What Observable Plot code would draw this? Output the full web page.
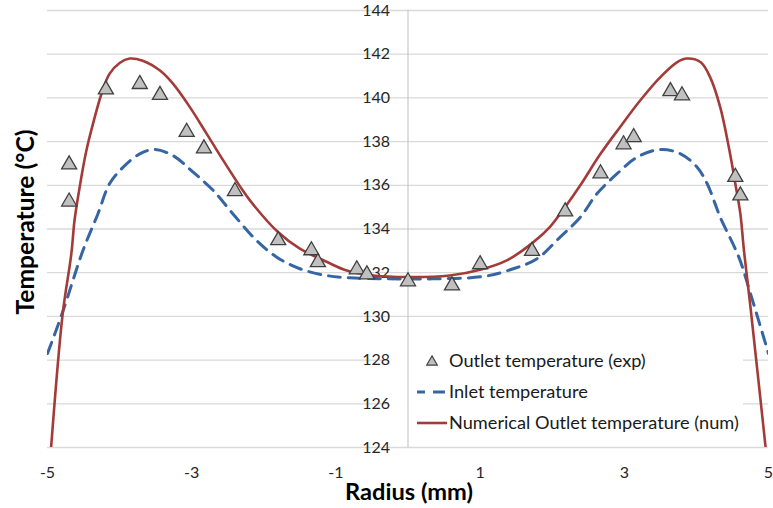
<!DOCTYPE html>
<html><head><meta charset="utf-8">
<script src="https://cdn.jsdelivr.net/npm/d3@7"></script>
<script src="https://cdn.jsdelivr.net/npm/@observablehq/plot@0.6"></script>
<style>
body{margin:0;background:#fff;}
#chart{position:relative;width:773px;height:508px;}
</style>
</head><body><div id="chart"></div>
<script>
// Numerical outlet temperature (solid red)
const numX = [-4.95, -4.79, -4.67, -4.625, -4.56, -4.46, -4.37, -4.25, -4.14, -4.0, -3.86, -3.68, -3.44, -3.26, -3.03, -2.80, -2.565, -2.33, -2.19, -1.80, -1.5, -1.13, -0.85, -0.48, 0, 0.58, 1.0, 1.37, 1.74, 1.97, 2.20, 2.39, 2.67, 2.94, 3.22, 3.5, 3.73, 3.87, 4.06, 4.19, 4.33, 4.45, 4.54, 4.61, 4.66, 4.75, 4.96];
const numY = [124.0, 130.1, 132.85, 134.4, 135.8, 137.6, 138.8, 140.2, 141.1, 141.6, 141.8, 141.7, 141.25, 140.65, 139.6, 138.4, 137.15, 135.95, 135.3, 133.85, 133.1, 132.5, 132.1, 131.87, 131.8, 131.87, 132.13, 132.56, 133.4, 134.1, 135.1, 136.0, 137.44, 138.66, 139.88, 140.95, 141.63, 141.8, 141.63, 140.95, 139.58, 137.74, 136.07, 134.69, 133.0, 130.42, 124.0];
// Inlet temperature (dashed blue)
const inletX = [-5, -4.79, -4.51, -4.30, -4.14, -3.95, -3.72, -3.51, -3.26, -2.98, -2.70, -2.43, -2.10, -1.82, -1.5, -1.13, -0.81, -0.30, 0.35, 1.05, 1.46, 1.79, 2.11, 2.39, 2.62, 2.90, 3.18, 3.5, 3.78, 4.01, 4.15, 4.26, 4.33, 4.59, 4.75, 5.0];
const inletY = [128.3, 130.2, 133.0, 134.7, 136.07, 136.83, 137.44, 137.64, 137.36, 136.6, 135.76, 134.7, 133.47, 132.71, 132.18, 131.87, 131.77, 131.72, 131.72, 131.83, 132.18, 132.64, 133.63, 134.54, 135.61, 136.53, 137.29, 137.64, 137.44, 136.83, 136.07, 135.15, 134.54, 132.7, 131.04, 128.3];
// Outlet temperature, experiment (triangles)
const expX = [-4.70, -4.70, -4.19, -3.72, -3.44, -3.07, -2.83, -2.40, -1.80, -1.34, -1.25, -0.71, -0.57, 0.0, 0.61, 1.0, 1.72, 2.18, 2.67, 2.99, 3.13, 3.64, 3.80, 4.54, 4.61];
const expY = [136.95, 135.25, 140.38, 140.63, 140.13, 138.44, 137.68, 135.73, 133.48, 133.02, 132.48, 132.15, 131.92, 131.6, 131.41, 132.38, 132.99, 134.8, 136.54, 137.87, 138.2, 140.3, 140.11, 136.38, 135.53];

const xTicks = [-5, -3, -1, 1, 3, 5];
const yTicks = [124, 126, 128, 130, 132, 134, 136, 138, 140, 142, 144];
const legendLabels = ["Outlet temperature (exp)", "Inlet temperature", "Numerical Outlet temperature (num)"];
const xTitle = "Radius (mm)";
const yTitle = "Temperature (°C)";

const num = numX.map((x, i) => ({x, y: numY[i]}));
const inlet = inletX.map((x, i) => ({x, y: inletY[i]}));
const exp = expX.map((x, i) => ({x, y: expY[i]}));

const RED = "#a33b39", BLUE = "#3566a3", TRI_FILL = "#c0c0c0", TRI_STROKE = "#3f3f3f";
const FONT = "Lato, 'Open Sans', sans-serif";

const plot = Plot.plot({
  width: 773, height: 508,
  marginLeft: 47, marginRight: 5, marginTop: 10, marginBottom: 61,
  style: {fontFamily: FONT, background: "#fff", overflow: "visible"},
  x: {domain: [-5, 5], axis: null},
  y: {domain: [124, 144], axis: null},
  marks: [
    Plot.ruleY(yTicks, {stroke: "#d9d9d9", strokeWidth: 1.3}),
    Plot.ruleX([0], {stroke: "#bfbfbf", strokeWidth: 1}),
    Plot.text(yTicks, {x: 0, y: d => d, text: d => String(d), textAnchor: "end", dx: -18, fontSize: 16, fill: "#262626"}),
    Plot.text(xTicks, {x: d => d, frameAnchor: "bottom", dy: 30, text: d => String(d), fontSize: 16, fill: "#262626"}),
    Plot.line(inlet, {x: "x", y: "y", stroke: BLUE, strokeWidth: 3, strokeDasharray: "12,8", curve: "catmull-rom", clip: true}),
    Plot.line(num, {x: "x", y: "y", stroke: RED, strokeWidth: 2.6, curve: "catmull-rom", clip: true}),
    Plot.dot(exp, {x: "x", y: "y", symbol: "triangle", r: 5.6, fill: TRI_FILL, stroke: TRI_STROKE, strokeWidth: 1.3})
  ]
});
document.getElementById("chart").appendChild(plot);

const svg = d3.select(plot);
// white legend background: put right after the gridline group (first <g>)
const groups = plot.querySelectorAll(":scope > g");
const bg = document.createElementNS("http://www.w3.org/2000/svg", "rect");
bg.setAttribute("x", 388); bg.setAttribute("y", 333);
bg.setAttribute("width", 355); bg.setAttribute("height", 104);
bg.setAttribute("fill", "#ffffff");
bg.style.fill = "#ffffff";
plot.insertBefore(bg, groups[1]);

function fit(sel, target) {
  const n = sel.node();
  const fs = parseFloat(sel.attr("font-size"));
  const w = n.getComputedTextLength();
  if (w > 0) sel.attr("font-size", (fs * target / w).toFixed(2));
  return sel;
}

const lg = svg.append("g").attr("font-family", FONT).attr("fill", "#1a1a1a").attr("text-anchor", "start");
const rows = [361, 392, 423];
lg.append("path")
  .attr("d", d3.symbol(d3.symbolTriangle, 48)())
  .attr("transform", `translate(432,${rows[0] + 1})`)
  .attr("fill", TRI_FILL).attr("stroke", TRI_STROKE).attr("stroke-width", 1.2);
lg.append("line").attr("x1", 417).attr("x2", 447).attr("y1", rows[1]).attr("y2", rows[1])
  .attr("stroke", BLUE).attr("stroke-width", 3).attr("stroke-dasharray", "12,8").attr("stroke-dashoffset", 4);
lg.append("line").attr("x1", 417).attr("x2", 447).attr("y1", rows[2]).attr("y2", rows[2])
  .attr("stroke", RED).attr("stroke-width", 2.6);
const legTexts = legendLabels.map((t, i) =>
  lg.append("text").attr("x", 449).attr("y", rows[i]).attr("dy", "0.35em")
    .attr("text-anchor", "start").attr("font-size", 17).text(t));
// size legend font so the longest entry spans like the reference
const lf = fit(legTexts[2], 290).attr("font-size");
legTexts.forEach(s => s.attr("font-size", lf));

const xt = svg.append("text").attr("x", 409).attr("y", 500).attr("text-anchor", "middle")
  .attr("font-family", FONT).attr("font-weight", "bold").attr("font-size", 23).attr("fill", "#000").text(xTitle);
fit(xt, 128);
const yt = svg.append("text").attr("transform", "translate(34,222) rotate(-90)").attr("text-anchor", "middle")
  .attr("font-family", FONT).attr("font-weight", "bold").attr("font-size", 23).attr("fill", "#000").text(yTitle);
fit(yt, 185);
</script>
</body></html>
